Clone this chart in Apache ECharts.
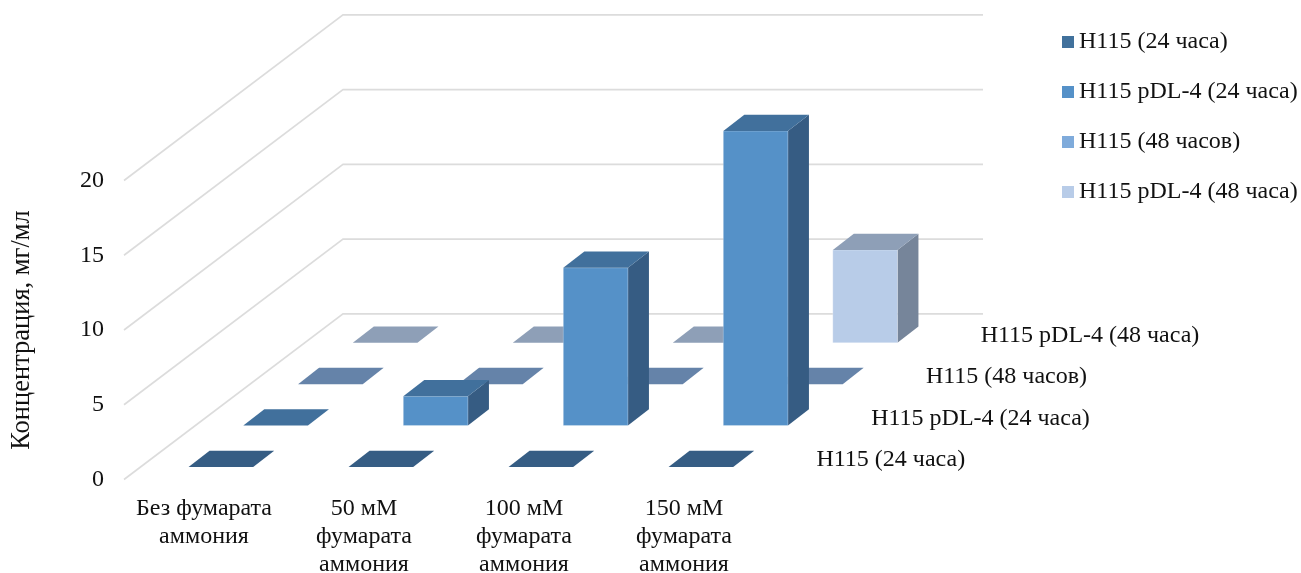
<!DOCTYPE html>
<html lang="ru">
<head>
<meta charset="utf-8">
<title>Концентрация</title>
<script src="https://cdn.jsdelivr.net/npm/echarts@6/dist/echarts.min.js"></script>
<style>
html,body{margin:0;padding:0;background:#fff}
#chart{width:1301px;height:573px}
</style>
</head>
<body>
<div id="chart"></div>
<script>
const categories = ['Без фумарата\nаммония', '50 мМ\nфумарата\nаммония', '100 мМ\nфумарата\nаммония', '150 мМ\nфумарата\nаммония'];
const seriesNames = ['Н115 (24 часа)', 'Н115 pDL-4 (24 часа)', 'Н115 (48 часов)', 'Н115 pDL-4 (48 часа)'];
const h115at24 = [0, 0, 0, 0];
const pdlAt24 = [0, 1.96, 10.55, 19.7];
const h115at48 = [0, 0, 0, 0];
const pdlAt48 = [0, 0, 0, 6.2];
const rows = [h115at24, pdlAt24, h115at48, pdlAt48];
const valueTicks = [0, 5, 10, 15, 20];

// Faces of the boxes in each row of the depth axis
const legendColors = ['#41719c', '#5591c8', '#7fabdb', '#b8cce8'];
const frontColors = ['#41719c', '#5591c8', '#7fabdb', '#b8cce8'];
const topColors = ['#365d84', '#41709c', '#6583a9', '#8e9fb7'];
const sideColors = ['#2f5176', '#365c83', '#57708f', '#76859a'];

const FONT = '"Liberation Serif", "Times New Roman", serif';
const TEXT_SIZE = 24;
const TEXT_COLOR = '#111';
const GRID_COLOR = '#dcdcdc';

// Oblique projection: one depth row shifts a point right and up
const ROW_DX = 54.75, ROW_DY = 41.4;
const BOX_DX = 21, BOX_DY = 16.3;
const BOX_WIDTH_RATIO = 0.404;
const rowCount = rows.length;

function rowShift(row) {
  return [(row + 0.5) * ROW_DX - BOX_DX / 2, (row + 0.5) * ROW_DY - BOX_DY / 2];
}

function renderBox(row) {
  return function (params, api) {
    const cat = api.value(0), val = api.value(1);
    const base = api.coord([cat, 0]);
    const top = api.coord([cat, val]);
    const w = api.size([1, 0])[0] * BOX_WIDTH_RATIO;
    const s = rowShift(row);
    const x0 = base[0] - w / 2 + s[0], x1 = x0 + w;
    const yb = base[1] - s[1], yt = top[1] - s[1];
    const children = [];
    if (val > 0) {
      children.push({
        type: 'polygon',
        shape: { points: [[x1, yb], [x1 + BOX_DX, yb - BOX_DY], [x1 + BOX_DX, yt - BOX_DY], [x1, yt]] },
        style: { fill: sideColors[row] }
      });
      children.push({
        type: 'rect',
        shape: { x: x0, y: yt, width: w, height: yb - yt },
        style: { fill: frontColors[row], stroke: 'rgba(255,255,255,0.25)', lineWidth: 1 }
      });
    }
    children.push({
      type: 'polygon',
      shape: { points: [[x0, yt], [x1, yt], [x1 + BOX_DX, yt - BOX_DY], [x0 + BOX_DX, yt - BOX_DY]] },
      style: { fill: topColors[row] }
    });
    return { type: 'group', children: children };
  };
}

// Side wall and back wall lines for one value tick
function renderWallLine(params, api) {
  const y = api.coord([0, api.value(1)])[1];
  const left = params.coordSys.x;
  const right = left + params.coordSys.width;
  const depthX = ROW_DX * rowCount, depthY = ROW_DY * rowCount;
  return {
    type: 'polyline',
    shape: { points: [[left, y], [left + depthX, y - depthY], [right + depthX, y - depthY]] },
    style: { fill: null, stroke: GRID_COLOR, lineWidth: 1.6 }
  };
}

// Name of each row, placed along the right edge of the floor
function renderRowName(params, api) {
  const row = api.value(0);
  const base = api.coord([0, 0])[1];
  const right = params.coordSys.x + params.coordSys.width;
  return {
    type: 'text',
    style: {
      x: right + (row + 0.5) * ROW_DX + 25,
      y: base - (row + 0.5) * ROW_DY + 1,
      text: seriesNames[row],
      font: TEXT_SIZE + 'px ' + FONT,
      fill: TEXT_COLOR,
      align: 'left',
      verticalAlign: 'middle'
    }
  };
}

const boxSeries = rows.map(function (values, row) {
  return {
    type: 'custom',
    name: seriesNames[row],
    z: 10 - row,
    itemStyle: { color: legendColors[row] },
    renderItem: renderBox(row),
    encode: { x: 0, y: 1 },
    silent: true,
    data: values.map(function (v, i) { return [i, v]; })
  };
});

const chart = echarts.init(document.getElementById('chart'), null, { renderer: 'canvas' });
chart.setOption({
  animation: false,
  backgroundColor: '#fff',
  textStyle: { fontFamily: FONT },
  grid: { left: 124, width: 640, top: 180.5, height: 299, outerBoundsMode: 'none' },
  legend: {
    orient: 'vertical',
    left: 1062,
    top: 30,
    padding: 0,
    itemWidth: 12,
    itemHeight: 12,
    itemGap: 26,
    selectedMode: false,
    icon: 'rect',
    data: seriesNames.map(function (n) { return { name: n }; }),
    textStyle: { fontFamily: FONT, fontSize: TEXT_SIZE, color: TEXT_COLOR, lineHeight: 20 }
  },
  xAxis: {
    type: 'category',
    data: categories,
    axisLine: { show: false },
    axisTick: { show: false },
    splitLine: { show: false },
    axisLabel: { interval: 0, fontFamily: FONT, fontSize: TEXT_SIZE, color: TEXT_COLOR, lineHeight: 28, margin: 15 }
  },
  yAxis: {
    type: 'value',
    min: 0,
    max: 20,
    interval: 5,
    name: 'Концентрация, мг/мл',
    nameLocation: 'middle',
    nameGap: 88,
    nameTextStyle: { fontFamily: FONT, fontSize: 26.5, color: TEXT_COLOR },
    axisLine: { show: false },
    axisTick: { show: false },
    splitLine: { show: false },
    axisLabel: { fontFamily: FONT, fontSize: TEXT_SIZE, color: TEXT_COLOR, margin: 20 }
  },
  series: [
    {
      type: 'custom',
      name: 'walls',
      z: 1,
      renderItem: renderWallLine,
      encode: { x: 0, y: 1 },
      silent: true,
      data: valueTicks.map(function (v) { return [0, v]; })
    }
  ].concat(boxSeries, [
    {
      type: 'custom',
      name: 'rowNames',
      z: 20,
      renderItem: renderRowName,
      encode: { x: 0 },
      silent: true,
      data: seriesNames.map(function (n, i) { return [i, 0]; })
    }
  ])
});
</script>
</body>
</html>
